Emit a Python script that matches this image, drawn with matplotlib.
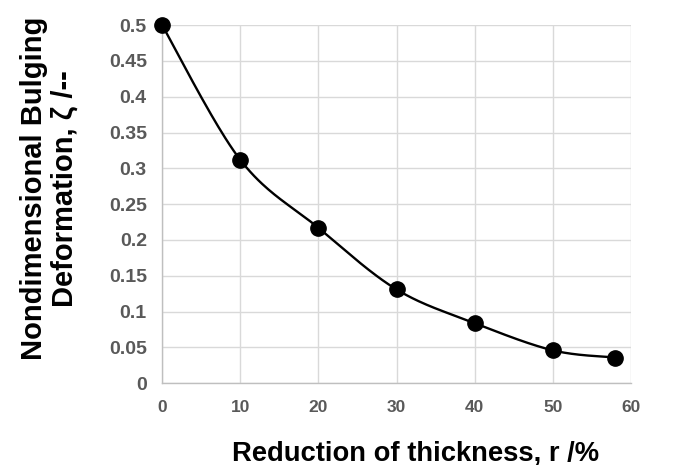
import numpy as np
import matplotlib
matplotlib.use("Agg")
import matplotlib.pyplot as plt

plt.rcParams['font.family'] = ['Liberation Sans', 'DejaVu Sans']

reduction = [0, 10, 20, 30, 40, 50, 58]
bulging = [0.500, 0.312, 0.217, 0.131, 0.084, 0.046, 0.036]
x_ticks = [0, 10, 20, 30, 40, 50, 60]
y_ticks = [0, 0.05, 0.1, 0.15, 0.2, 0.25, 0.3, 0.35, 0.4, 0.45, 0.5]
y_tick_labels = ['0', '0.05', '0.1', '0.15', '0.2', '0.25', '0.3', '0.35', '0.4', '0.45', '0.5']


def smooth(xs, ys, n=40):
    """Excel-like smoothed line: cubic Bezier with Catmull-Rom control points."""
    xs = np.asarray(xs, float)
    ys = np.asarray(ys, float)
    P = np.column_stack([xs, ys])
    out = []
    for i in range(len(P) - 1):
        p0 = P[i - 1] if i > 0 else P[i]
        p1 = P[i]
        p2 = P[i + 1]
        p3 = P[i + 2] if i + 2 < len(P) else P[i + 1]
        c1 = p1 + (p2 - p0) / 6.0
        c2 = p2 - (p3 - p1) / 6.0
        t = np.linspace(0, 1, n)[:, None]
        seg = ((1 - t) ** 3) * p1 + 3 * ((1 - t) ** 2) * t * c1 + 3 * (1 - t) * t ** 2 * c2 + t ** 3 * p2
        out.append(seg if i == 0 else seg[1:])
    arr = np.vstack(out)
    return arr[:, 0], arr[:, 1]


fig = plt.figure(figsize=(6.74, 4.65), dpi=100)
ax = fig.add_axes([0.2404, 0.1757, 0.6958, 0.7705])

sx, sy = smooth(reduction, bulging)
ax.plot(sx, sy, color='black', lw=1.7, clip_on=False, zorder=3)
ax.plot(reduction, bulging, 'o', color='black', markersize=11, clip_on=False, zorder=4)

ax.set_xlim(0, 60)
ax.set_ylim(0, 0.5)
ax.set_xticks(x_ticks)
ax.set_xticklabels([str(v) for v in x_ticks])
ax.set_yticks(y_ticks)
ax.set_yticklabels(y_tick_labels)

ax.grid(True, color='#d9d9d9', lw=1.0)
ax.set_axisbelow(True)
for s in ['top', 'right']:
    ax.spines[s].set_visible(False)
for s in ['left', 'bottom']:
    ax.spines[s].set_color('#bfbfbf')
    ax.spines[s].set_linewidth(1.0)

ax.tick_params(axis='both', length=0, labelcolor='#595959')
ax.tick_params(axis='x', pad=12, labelsize=12.5)
ax.tick_params(axis='y', pad=11, labelsize=14)
for lab in ax.get_xticklabels() + ax.get_yticklabels():
    lab.set_fontweight('bold')

fig.text(0.616, 1 - 460 / 465, 'Reduction of thickness, r /%', ha='center', va='baseline',
         fontsize=19.7, fontweight='bold')
fig.text(0.073, 0.594, 'Nondimensional Bulging\nDeformation, ζ /--', ha='center', va='center',
         rotation=90, fontsize=21, fontweight='bold', linespacing=1.1)

fig.savefig('out.png', dpi=100)
